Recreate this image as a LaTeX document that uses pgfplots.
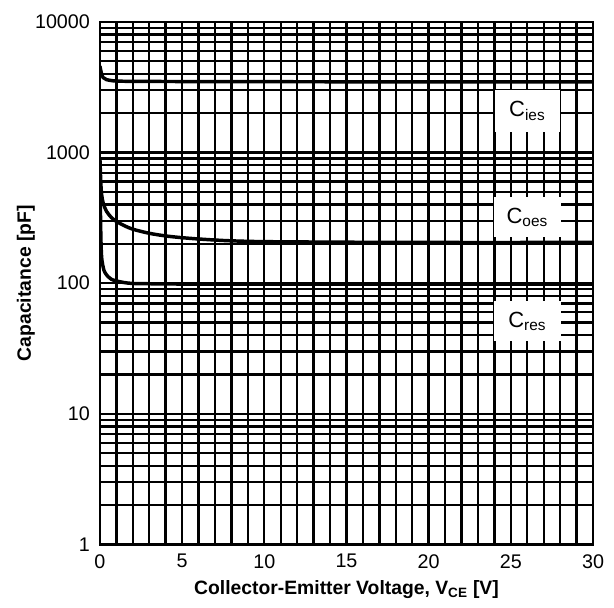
\documentclass[border=0pt]{standalone}
\usepackage{fontspec}
\setmainfont{Liberation Sans}
\usepackage{pgfplots}
\pgfplotsset{compat=1.18}
\begin{document}
\begin{tikzpicture}
\useasboundingbox (-75pt,-47.25pt) rectangle (385.75pt,408.5pt);
\begin{axis}[
  at={(0,0)}, anchor=south west,
  scale only axis, width=370pt, height=392pt,
  xmin=0, xmax=30, ymin=1, ymax=10000, ymode=log, log basis y=10,
  xtick={0,5,...,30}, minor xtick={0,1,...,30},
  ytick={1,10,100,1000,10000}, yticklabels={1,10,100,1000,10000},
  minor ytick={2,3,4,5,6,7,8,9,20,30,40,50,60,70,80,90,200,300,400,500,600,700,800,900,2000,3000,4000,5000,6000,7000,8000,9000},
  grid=both,
  major grid style={black, line width=1.8pt},
  minor grid style={black, line width=1.8pt},
  axis line style={black, line width=2pt},
  major tick length=0pt, minor tick length=0pt,
  tick label style={font=\fontsize{14.8}{17}\selectfont},
  /pgf/number format/assume math mode=true,
  yticklabel style={xshift=-4pt},
  xticklabel style={yshift=-4pt},
  ylabel={\textbf{Capacitance [pF]}},
  ylabel style={font=\fontsize{14.5}{17}\selectfont, at={(axis description cs:-0.15,0.5)}, anchor=center, rotate=0},
  xlabel={\textbf{Collector-Emitter Voltage, V\textsubscript{CE} [V]}},
  xlabel style={font=\fontsize{14.5}{17}\selectfont, at={(axis description cs:0.5,-0.086)}, anchor=center},
]
\addplot[black, line width=2.6pt, smooth] coordinates {
 (0,4600) (0.1,4000) (0.2,3750) (0.4,3620) (0.7,3560) (1,3530) (2,3510) (5,3500) (10,3490) (20,3480) (30,3480)};
\addplot[black, line width=2.6pt, smooth] coordinates {
 (0,900) (0.05,600) (0.1,480) (0.2,410) (0.4,355) (0.7,318) (1,297) (1.5,275) (2,259) (3,241) (4,230) (5,223) (6,218) (7,214) (8,211) (10,208) (15,206) (20,205) (30,205)};
\addplot[black, line width=2.6pt, smooth] coordinates {
 (0,700) (0.05,250) (0.1,160) (0.2,132) (0.3,121) (0.5,112) (0.7,107) (1,104) (1.5,101) (2,99.5) (3,99) (5,98.5) (10,98.5) (30,98.5)};
\node[fill=white, minimum width=49pt, minimum height=31pt, font=\fontsize{16.5}{19}\selectfont] at (axis cs:26.0,2080) {C\textsubscript{ies}};
\node[fill=white, minimum width=50pt, minimum height=30pt, font=\fontsize{16.5}{19}\selectfont] at (axis cs:26.0,319) {C\textsubscript{oes}};
\node[fill=white, minimum width=50pt, minimum height=30pt, font=\fontsize{16.5}{19}\selectfont] at (axis cs:26.0,51) {C\textsubscript{res}};
\end{axis}
\end{tikzpicture}
\end{document}
